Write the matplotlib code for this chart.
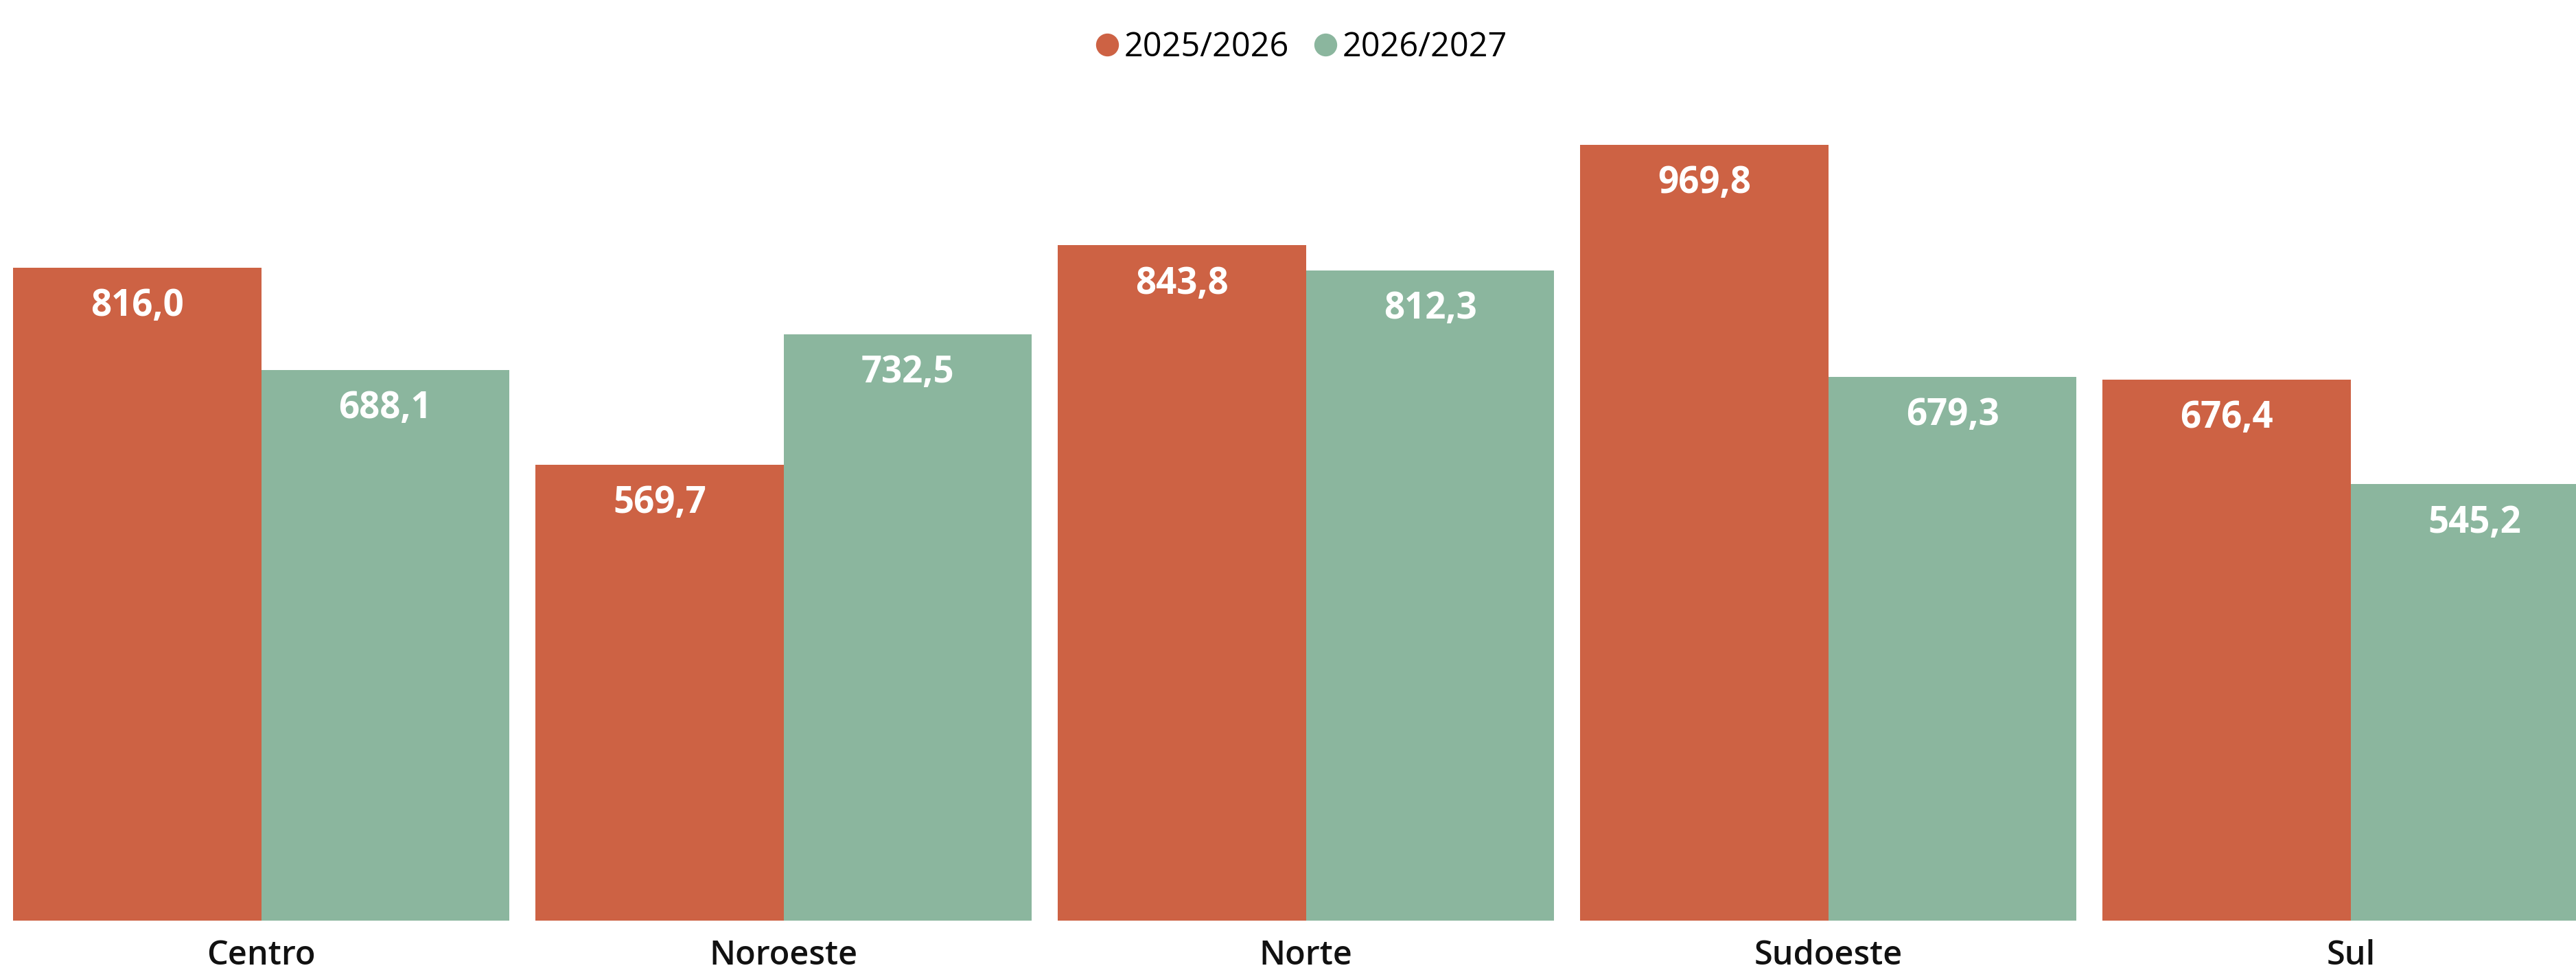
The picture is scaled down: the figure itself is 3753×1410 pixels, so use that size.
import matplotlib.pyplot as plt
import numpy as np
from matplotlib.lines import Line2D

plt.rcParams["font.family"] = ["Open Sans", "DejaVu Sans"]

regions = ["Centro", "Noroeste", "Norte", "Sudoeste", "Sul"]
series_names = ["2025/2026", "2026/2027"]
values_2526 = [816.0, 569.7, 843.8, 969.8, 676.4]
values_2627 = [688.1, 732.5, 812.3, 679.3, 545.2]
colors = ["#CD6244", "#8BB69E"]


def fmt(v):
    return f"{v:.1f}".replace(".", ",")


fig = plt.figure(figsize=(37.53, 14.10), dpi=100)
ax = fig.add_axes([0.0, 0.0492, 1.0, 0.9508])

x = np.arange(len(regions))
width = 0.475
for i, (vals, name, color) in enumerate(zip([values_2526, values_2627], series_names, colors)):
    pos = x - width / 2 + i * width
    ax.bar(pos, vals, width=width, color=color, label=name, linewidth=0)
    for px, v in zip(pos, vals):
        ax.text(px, v - 0.042 * 1150, fmt(v), ha="center", va="center",
                color="white", fontsize=38, fontweight="bold")

ax.set_xlim(-0.5, 4.431)
ax.set_ylim(0, 1150.6)
ax.set_xticks(x)
ax.set_xticklabels(regions, fontsize=35, color="#111111", fontweight="semibold")
ax.tick_params(axis="x", length=0, pad=20)
ax.set_yticks([])
for s in ax.spines.values():
    s.set_visible(False)

# legend with round markers
handles = [Line2D([], [], marker="o", linestyle="none", markersize=23, color=c) for c in colors]
ax.legend(handles, series_names, loc="center", bbox_to_anchor=(0.5055, 0.951),
          bbox_transform=fig.transFigure, ncol=2, frameon=False, fontsize=35,
          handlelength=0.6, handletextpad=0.2, columnspacing=0.8)

fig.savefig("out.png", dpi=100)
